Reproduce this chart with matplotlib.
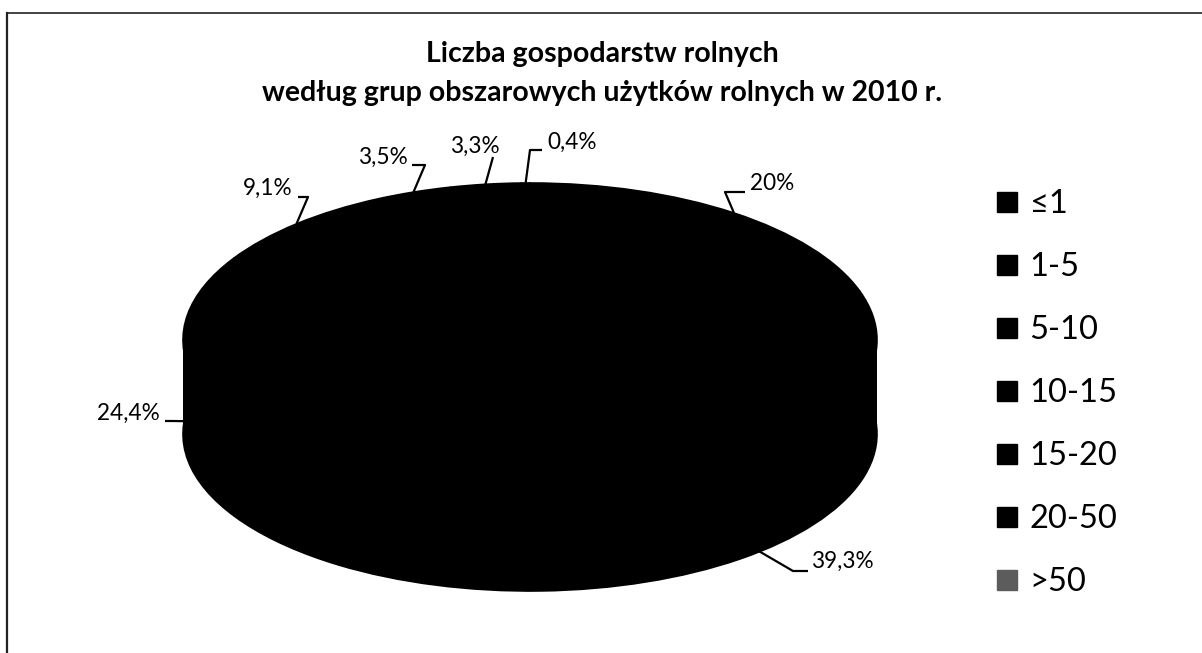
import matplotlib
matplotlib.use('Agg')
import matplotlib.pyplot as plt
import numpy as np
from matplotlib.transforms import Affine2D
from matplotlib.lines import Line2D
from matplotlib.patches import Rectangle

plt.rcParams['font.family'] = ['Lato', 'DejaVu Sans']

title = 'Liczba gospodarstw rolnych\nwedług grup obszarowych użytków rolnych w 2010 r.'
groups = ['≤1', '1-5', '5-10', '10-15', '15-20', '20-50', '>50']
shares = [20.0, 39.3, 24.4, 9.1, 3.5, 3.3, 0.4]
share_labels = ['20%', '39,3%', '24,4%', '9,1%', '3,5%', '3,3%', '0,4%']
# the scan renders every slice black; only the legend key of >50 stays grey
slice_colors = ['#000000'] * 7
legend_colors = ['#000000'] * 6 + ['#5c5c5c']

# pie geometry in pixels (axes = whole figure, y pointing down)
CX, CY = 530, 340
A, B = 347, 157
DEPTH = 94

# label layout: text x, y, ha, elbow, end of leader, drop on the side
label_layout = [
    (750, 183, 'left', (725, 192), (745, 192), 0.0),
    (811, 561, 'left', (793, 571), (808, 571), 0.8),
    (160, 413, 'right', (172, 421), (165, 421), 0.5),
    (293, 188, 'right', (308, 197), (298, 197), 0.0),
    (408, 157, 'right', (425, 165), (412, 165), 0.0),
    (475, 146, 'center', (493, 157), (493, 157), 0.0),
    (547, 142, 'left', (530, 150), (542, 150), 0.0),
]

fig = plt.figure(figsize=(12.02, 6.53), dpi=100)
ax = fig.add_axes([0, 0, 1, 1])


def draw_layer(dy, z):
    wedges, _ = ax.pie(shares, colors=slice_colors, startangle=90, counterclock=False,
                       radius=1, wedgeprops=dict(linewidth=1.2, edgecolor='black'))
    for w in wedges:
        w.set_transform(Affine2D().scale(A, -B).translate(CX, CY + dy) + ax.transData)
        w.set_zorder(z)
    return wedges


draw_layer(DEPTH, 1)
ax.add_patch(Rectangle((CX - A, CY), 2 * A, DEPTH, color='black', lw=0, zorder=1))
draw_layer(0, 2)

ax.set_aspect('auto')
ax.set_xlim(0, 1202)
ax.set_ylim(653, 0)
ax.axis('off')

# percentage labels with leader lines
cum = np.cumsum([0] + shares[:-1])
for i, lab in enumerate(share_labels):
    mid = np.deg2rad((cum[i] + shares[i] / 2) / 100 * 360)
    tx, ty, ha, elbow, end, drop = label_layout[i]
    anchor = (CX + A * np.sin(mid), CY - B * np.cos(mid) + drop * DEPTH)
    xs = [anchor[0], elbow[0], end[0]]
    ys = [anchor[1], elbow[1], end[1]]
    ax.plot(xs, ys, color='black', lw=1.6, zorder=3, solid_capstyle='butt')
    ax.text(tx, ty, lab, ha=ha, va='center', fontsize=16.3, zorder=4)

fig.text(0.501, 0.887, title, ha='center', va='center', fontsize=20.5,
         fontweight='bold', linespacing=1.62)

handles = [Line2D([], [], marker='s', ls='', color=c, markersize=14.5) for c in legend_colors]
fig.legend(handles, groups, loc='upper left', bbox_to_anchor=(0.828, 0.71),
           frameon=False, fontsize=23.5, borderpad=0, borderaxespad=0,
           handlelength=0.75, handletextpad=0.3, labelspacing=1.01)

# chart border (top and left edges visible in the scan)
fig.add_artist(Line2D([7 / 1202, 1], [1 - 13 / 653, 1 - 13 / 653], color='#222222', lw=1.2))
fig.add_artist(Line2D([7 / 1202, 7 / 1202], [0, 1 - 13 / 653], color='#222222', lw=1.6))

fig.savefig('out.png', dpi=100)
